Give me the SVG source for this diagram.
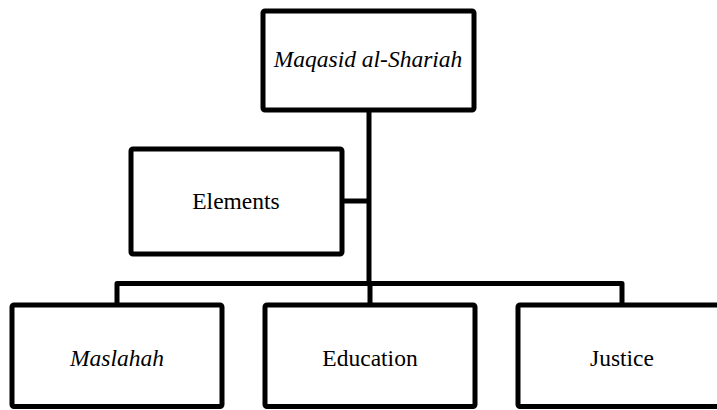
<svg xmlns="http://www.w3.org/2000/svg" width="717" height="410" viewBox="0 0 717 410">
  <style>
    .box { fill: #fff; stroke: #000; stroke-width: 5; stroke-linejoin: round; }
    .wire { fill: none; stroke: #000; stroke-width: 5; stroke-linejoin: round; }
    .lbl { font-family: "Liberation Serif", "Times New Roman", serif; font-size: 23.5px; text-anchor: middle; fill: #000; }
    .it { font-style: italic; }
  </style>
  <rect width="717" height="410" fill="#fff"/>
  <g id="connectors">
    <path class="wire" d="M369 110 V283"/>
    <path class="wire" d="M342 201 H369"/>
    <path class="wire" d="M117 305 V283.5 H622 V305"/>
    <path class="wire" d="M370 283 V305"/>
  </g>
  <g id="maqasid">
    <rect class="box" x="263" y="11" width="211" height="99" rx="2"/>
    <text class="lbl it" x="368" y="67">Maqasid al-Shariah</text>
  </g>
  <g id="elements">
    <rect class="box" x="131" y="149" width="211" height="105" rx="2"/>
    <text class="lbl" x="236" y="209">Elements</text>
  </g>
  <g id="maslahah">
    <rect class="box" x="12" y="305" width="210" height="101.5" rx="2"/>
    <text class="lbl it" x="117" y="366">Maslahah</text>
  </g>
  <g id="education">
    <rect class="box" x="265" y="305" width="210" height="101.5" rx="2"/>
    <text class="lbl" x="370" y="366">Education</text>
  </g>
  <g id="justice">
    <rect class="box" x="518" y="305" width="210" height="101.5" rx="2"/>
    <text class="lbl" x="622" y="366">Justice</text>
  </g>
</svg>
